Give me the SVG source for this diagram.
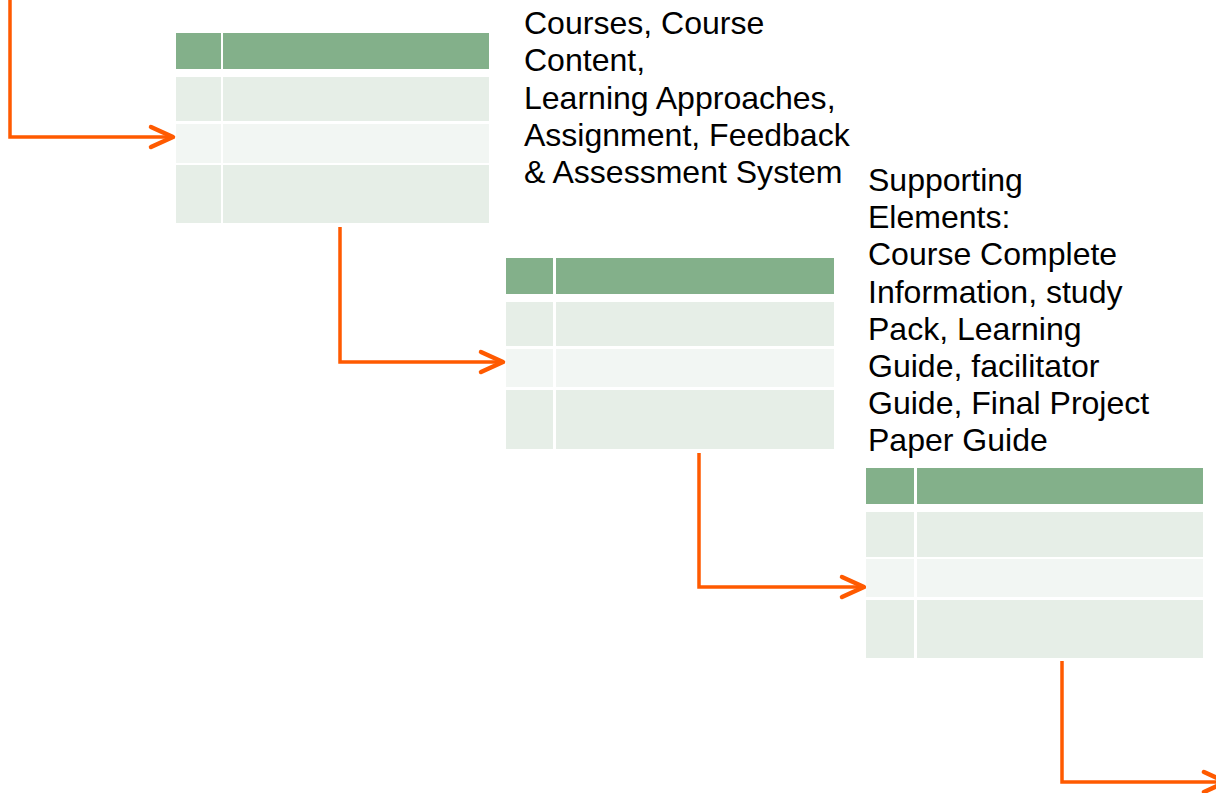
<svg xmlns="http://www.w3.org/2000/svg" width="1216" height="793" viewBox="0 0 1216 793">
  <style>
    .hdr { fill: #83B08A; }
    .rowA { fill: #E6EEE7; }
    .rowB { fill: #F2F6F3; }
    .conn { fill: none; stroke: #FF5A00; stroke-width: 3.5; stroke-linejoin: miter; }
    .head { fill: none; stroke: #FF5A00; stroke-width: 4.5; stroke-linecap: round; stroke-linejoin: round; }
    .lbl { font-family: "Liberation Sans", Arial, sans-serif; font-size: 30.5px; fill: #000000; }
  </style>

  <!-- Connectors: elbow lines with open chevron heads -->
  <g id="connectors">
    <path class="conn" d="M10,0 V137 H172"/>
    <path class="head" d="M151,127 L173,137 L151,147"/>

    <path class="conn" d="M340,227 V362 H501"/>
    <path class="head" d="M481,352 L503,362 L481,372"/>

    <path class="conn" d="M699,453 V587 H862"/>
    <path class="head" d="M842,577 L864,587 L842,597"/>

    <path class="conn" d="M1062,661 V782 H1224"/>
    <path class="head" d="M1204,772 L1226,782 L1204,792"/>
  </g>

  <!-- Table 1 -->
  <g id="table1">
    <rect class="hdr" x="176" y="33" width="45" height="36"/>
    <rect class="hdr" x="223" y="33" width="266" height="36"/>
    <rect class="rowA" x="176" y="77" width="45" height="44"/>
    <rect class="rowA" x="223" y="77" width="266" height="44"/>
    <rect class="rowB" x="176" y="124" width="45" height="39"/>
    <rect class="rowB" x="223" y="124" width="266" height="39"/>
    <rect class="rowA" x="176" y="165" width="45" height="58"/>
    <rect class="rowA" x="223" y="165" width="266" height="58"/>
  </g>

  <!-- Table 2 -->
  <g id="table2">
    <rect class="hdr" x="506" y="258" width="47" height="36"/>
    <rect class="hdr" x="556" y="258" width="278" height="36"/>
    <rect class="rowA" x="506" y="302" width="47" height="44"/>
    <rect class="rowA" x="556" y="302" width="278" height="44"/>
    <rect class="rowB" x="506" y="349" width="47" height="38"/>
    <rect class="rowB" x="556" y="349" width="278" height="38"/>
    <rect class="rowA" x="506" y="390" width="47" height="59"/>
    <rect class="rowA" x="556" y="390" width="278" height="59"/>
  </g>

  <!-- Table 3 -->
  <g id="table3">
    <rect class="hdr" x="866" y="468" width="48" height="36"/>
    <rect class="hdr" x="917" y="468" width="286" height="36"/>
    <rect class="rowA" x="866" y="512" width="48" height="45"/>
    <rect class="rowA" x="917" y="512" width="286" height="45"/>
    <rect class="rowB" x="866" y="559" width="48" height="38"/>
    <rect class="rowB" x="917" y="559" width="286" height="38"/>
    <rect class="rowA" x="866" y="600" width="48" height="58"/>
    <rect class="rowA" x="917" y="600" width="286" height="58"/>
  </g>

  <!-- Label: course components -->
  <g id="label-courses" transform="translate(524 0) scale(1.05 1)">
    <text class="lbl" x="0" y="34.3">Courses, Course</text>
    <text class="lbl" x="0" y="71.5">Content,</text>
    <text class="lbl" x="0" y="108.7">Learning Approaches,</text>
    <text class="lbl" x="0" y="145.9">Assignment, Feedback</text>
    <text class="lbl" x="0" y="183.1">&amp; Assessment System</text>
  </g>

  <!-- Label: supporting elements -->
  <g id="label-supporting" transform="translate(868 0) scale(1.05 1)">
    <text class="lbl" x="0" y="191">Supporting</text>
    <text class="lbl" x="0" y="228.2">Elements:</text>
    <text class="lbl" x="0" y="265.4">Course Complete</text>
    <text class="lbl" x="0" y="302.6">Information, study</text>
    <text class="lbl" x="0" y="339.8">Pack, Learning</text>
    <text class="lbl" x="0" y="377">Guide, facilitator</text>
    <text class="lbl" x="0" y="414.2">Guide, Final Project</text>
    <text class="lbl" x="0" y="451.4">Paper Guide</text>
  </g>
</svg>
